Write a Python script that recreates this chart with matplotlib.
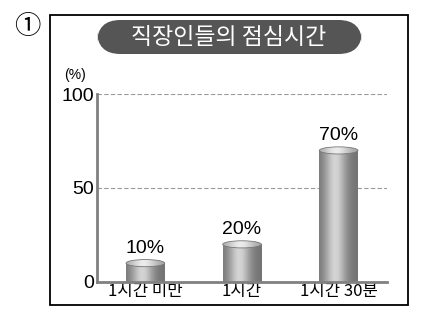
import numpy as np
import matplotlib
matplotlib.use('Agg')
import matplotlib.pyplot as plt
from matplotlib.patches import Ellipse, FancyBboxPatch, Rectangle

plt.rcParams['font.family'] = ['Noto Sans CJK KR', 'DejaVu Sans']

title = '직장인들의 점심시간'
categories = ['1시간 미만', '1시간', '1시간 30분']
values = [10, 20, 70]
value_labels = ['10%', '20%', '70%']
yticks = [0, 50, 100]

fig = plt.figure(figsize=(4.4, 3.2), dpi=100)
ax = fig.add_axes([0.2205, 0.119, 0.659, 0.587])

# outer frame and title badge
fig.patches.append(Rectangle((50 / 440, 1 - 305 / 320), 358 / 440, 290 / 320,
                             transform=fig.transFigure, fill=False,
                             edgecolor='black', linewidth=1.3))
fig.patches.append(FancyBboxPatch((97 / 440, 1 - 54 / 320), 265 / 440, 34 / 320,
                                  boxstyle='round,pad=0,rounding_size=0.053',
                                  transform=fig.transFigure, facecolor='#555555',
                                  edgecolor='none', mutation_aspect=440 / 320))
fig.text(229 / 440, 1 - 37 / 320, title, color='white', fontsize=16.5,
         ha='center', va='center', fontweight='medium')
fig.text(27 / 440, 1 - 26 / 320, '①', fontsize=19, ha='center', va='center',
         fontweight='light')

x = np.arange(len(values))
w = 0.4
bars = ax.bar(x, values, width=w, color='none', edgecolor='none', zorder=2)

# horizontal shading for cylinder bodies
t = np.linspace(0, 1, 200)
body = 0.45 + 0.38 * np.exp(-((t - 0.42) / 0.28) ** 2)
top = 0.62 + 0.3 * np.exp(-((t - 0.45) / 0.35) ** 2)
cap_h = 3.8
for b, v in zip(bars, values):
    x0 = b.get_x()
    im = ax.imshow(body[None, :], extent=[x0, x0 + w, 0, v], aspect='auto',
                   cmap='gray', vmin=0, vmax=1, zorder=2)
    im.set_clip_path(b)
    e = Ellipse((x0 + w / 2, v), w, cap_h, facecolor='none', edgecolor='#777777',
                linewidth=0.6, zorder=4)
    ax.add_patch(e)
    im2 = ax.imshow(top[None, :], extent=[x0, x0 + w, v - cap_h / 2, v + cap_h / 2],
                    aspect='auto', cmap='gray', vmin=0, vmax=1, zorder=3)
    im2.set_clip_path(e)

for xi, v, lab in zip(x, values, value_labels):
    ax.text(xi, v + 8, lab, ha='center', va='center', fontsize=14,
            family=['Liberation Sans'])

ax.set_xlim(-0.5, 2.5)
ax.set_ylim(0, 100)
for yv in yticks[1:]:
    ax.axhline(yv, color='#999999', linestyle=(0, (4, 2)), linewidth=0.8, zorder=1)

ax.set_yticks(yticks)
ax.set_yticklabels([str(v) for v in yticks], family=['Liberation Sans'], fontsize=14)
ax.set_xticks(x)
ax.set_xticklabels(categories, fontsize=12)
ax.tick_params(length=0, pad=1)
ax.tick_params(axis='y', pad=2)
for s in ['top', 'right']:
    ax.spines[s].set_visible(False)
for s in ['left', 'bottom']:
    ax.spines[s].set_color('#808080')
    ax.spines[s].set_linewidth(2)
ax.patch.set_visible(False)

fig.text(75 / 440, 1 - 75 / 320, '(%)', fontsize=10, ha='center', va='center',
         family=['Liberation Sans'])

fig.savefig('out.png', dpi=100)
